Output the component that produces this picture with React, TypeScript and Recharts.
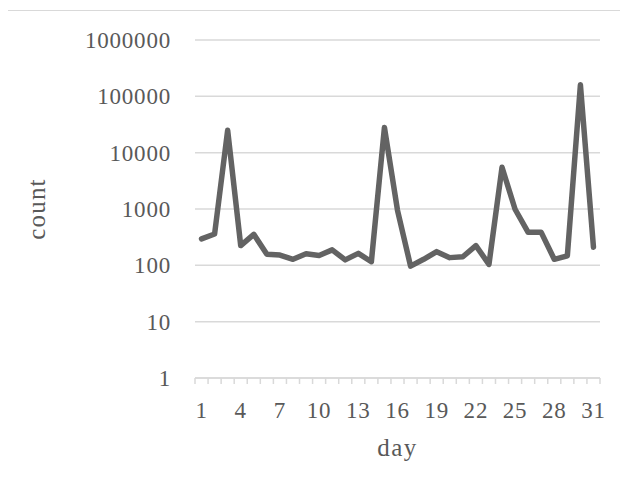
import React from 'react';
import { LineChart, Line, XAxis, YAxis, CartesianGrid, Label } from 'recharts';

const days = [1, 2, 3, 4, 5, 6, 7, 8, 9, 10, 11, 12, 13, 14, 15, 16, 17, 18, 19, 20, 21, 22, 23, 24, 25, 26, 27, 28, 29, 30, 31];
const counts = [295, 360, 25000, 224, 355, 158, 152, 128, 160, 150, 188, 125, 163, 116, 28000, 950, 97, 128, 175, 137, 142, 224, 104, 5500, 990, 385, 385, 128, 147, 160000, 210];
const dayLabels = [1, 4, 7, 10, 13, 16, 19, 22, 25, 28, 31];
const countTicks = [1, 10, 100, 1000, 10000, 100000, 1000000];

const TEXT = '#595959';
const GRID = '#d9d9d9';
const FONT = "'Liberation Serif', serif";

// category boundaries: tick marks sit between the days
const boundaries = days.map((d) => d - 0.5).concat(days[days.length - 1] + 0.5);
const xTicks = [...boundaries, ...dayLabels].sort((a, b) => a - b);

const data = days.map((day, i) => ({ day, count: counts[i] }));

function DayTick(props: any) {
  const { x, y, payload } = props;
  const v = payload.value;
  if (!Number.isInteger(v)) {
    return <line x1={x} x2={x} y1={y} y2={y + 6} stroke={GRID} strokeWidth={1.5} />;
  }
  return (
    <text x={x} y={y + 40} textAnchor="middle" fill={TEXT} fontSize={23} fontFamily={FONT} letterSpacing={0.8}>
      {v}
    </text>
  );
}

function CountLabel(props: any) {
  const { viewBox } = props;
  const cx = 36;
  const cy = viewBox.y + viewBox.height / 2;
  return (
    <text
      x={cx}
      y={cy}
      transform={`rotate(-90, ${cx}, ${cy})`}
      textAnchor="middle"
      dominantBaseline="central"
      fill={TEXT}
      fontSize={25}
      fontFamily={FONT}
      letterSpacing={1.2}
    >
      count
    </text>
  );
}

export default function App() {
  return (
    <div style={{ margin: -8, position: 'relative', width: 628, height: 489, overflow: 'hidden', background: '#fff' }}>
      <div
        style={{
          position: 'absolute',
          left: 5,
          top: 10,
          width: 700,
          height: 600,
          border: `1.5px solid ${GRID}`,
        }}
      />
      <div style={{ position: 'absolute', left: 0, top: 0 }}>
        <LineChart width={628} height={489} data={data} margin={{ top: 40, right: 28, bottom: 11, left: 35 }}>
          <CartesianGrid vertical={false} stroke={GRID} strokeWidth={1.5} />
          <XAxis
            dataKey="day"
            type="number"
            domain={[0.5, 31.5]}
            ticks={xTicks}
            interval={0}
            tick={<DayTick />}
            tickLine={false}
            tickSize={0}
            tickMargin={0}
            axisLine={{ stroke: GRID, strokeWidth: 1.5 }}
            height={100}
          >
            <Label
              value="day"
              position="insideBottom"
              offset={22}
              fill={TEXT}
              fontSize={25}
              fontFamily={FONT}
              letterSpacing={1.5}
            />
          </XAxis>
          <YAxis
            scale="log"
            domain={[1, 1000000]}
            ticks={countTicks}
            interval={0}
            allowDataOverflow
            axisLine={false}
            tickLine={false}
            tickSize={0}
            tickMargin={24}
            width={160}
            tick={{ fill: TEXT, fontSize: 23, fontFamily: FONT, letterSpacing: 0.8 }}
            tickFormatter={(v) => String(v)}
          >
            <Label content={<CountLabel />} />
          </YAxis>
          <Line
            type="linear"
            dataKey="count"
            stroke="#636363"
            strokeWidth={5.5}
            strokeLinejoin="round"
            strokeLinecap="round"
            dot={false}
            activeDot={false}
            isAnimationActive={false}
          />
        </LineChart>
      </div>
    </div>
  );
}
